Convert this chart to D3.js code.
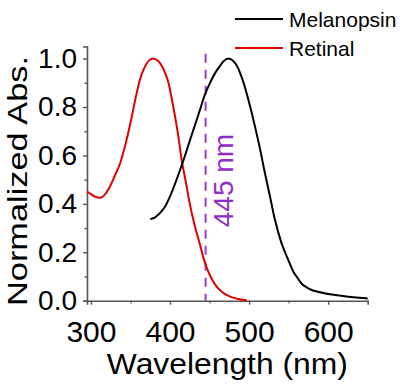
<!DOCTYPE html>
<html>
<head>
<meta charset="utf-8">
<script src="https://cdn.jsdelivr.net/npm/d3@7"></script>
<style>
  body { margin: 0; background: #fff; }
  text { font-family: "Liberation Sans", Arial, sans-serif; }
</style>
</head>
<body>
<div class="chart"></div>
<script>
const width = 400;
const height = 390;
const margin = {top: 46.5, bottom: 89.3, left: 87, right: 32.3};

// Retinal absorbance (red)
const retinalWl  = [295, 300, 305, 311.7, 318, 324, 330, 337, 344, 350, 356, 362, 368, 372, 378, 385, 392, 398, 404, 410, 415, 420, 425, 432, 438, 442, 446, 452, 459, 467, 476, 486, 497];
const retinalAbs = [0.451, 0.44, 0.43, 0.425, 0.44, 0.472, 0.515, 0.569, 0.65, 0.735, 0.83, 0.914, 0.965, 0.987, 1.0, 0.99, 0.955, 0.9, 0.803, 0.69, 0.576, 0.49, 0.40, 0.30, 0.23, 0.18, 0.14, 0.095, 0.058, 0.033, 0.017, 0.007, 0.002];

// Melanopsin absorbance (black)
const melanWl  = [375, 380, 385, 390, 394, 400, 406, 412.8, 419, 425.4, 432, 438, 444, 450.6, 457, 463, 468, 474, 480, 485, 488.6, 494, 499, 503, 507.4, 514, 520, 526.4, 532.7, 541, 549.5, 556, 560, 566, 572.7, 580, 589.5, 600, 615, 632, 650];
const melanAbs = [0.337, 0.342, 0.355, 0.372, 0.39, 0.431, 0.48, 0.541, 0.6, 0.665, 0.73, 0.79, 0.85, 0.90, 0.94, 0.969, 0.99, 1.0, 0.99, 0.968, 0.941, 0.89, 0.831, 0.78, 0.72, 0.624, 0.527, 0.431, 0.334, 0.238, 0.169, 0.12, 0.1, 0.072, 0.055, 0.043, 0.035, 0.028, 0.021, 0.014, 0.009];

const seriesNames = ["Melanopsin", "Retinal"];
const seriesColors = ["#000000", "#e00000"];

const xMajor = [300, 400, 500, 600];
const xMinor = [350, 450, 550, 650];
const yMajor = [0, 0.2, 0.4, 0.6, 0.8, 1.0];
const yMinor = [0.1, 0.3, 0.5, 0.7, 0.9];

const markerWl = 445;
const markerLabel = "445 nm";

const svg = d3.select(".chart").append("svg")
    .attr("width", width)
    .attr("height", height)
    .attr("viewBox", [0, 0, width, height]);

const xScale = d3.scaleLinear()
    .domain([295, 650])
    .range([margin.left, width - margin.right]);

const yScale = d3.scaleLinear()
    .domain([0, 1.05])
    .range([height - margin.bottom, margin.top]);

// axes - majors get labels, minors get short ticks only
const xAxis = svg.append("g")
    .attr("transform", "translate(0," + (height - margin.bottom) + ")")
    .call(d3.axisBottom(xScale)
        .tickValues(xMajor.concat(xMinor))
        .tickSizeOuter(0)
        .tickSize(4)
        .tickPadding(16)
        .tickFormat(function(d) { return xMajor.includes(d) ? d : ""; }));

const yAxis = svg.append("g")
    .attr("transform", "translate(" + margin.left + ",0)")
    .call(d3.axisLeft(yScale)
        .tickValues(yMajor.concat(yMinor))
        .tickSizeOuter(0)
        .tickSize(4)
        .tickPadding(6)
        .tickFormat(function(d) { return yMajor.includes(d) ? d3.format(".1f")(d) : ""; }));

[xAxis, yAxis].forEach(function(ax) {
    ax.select(".domain").attr("stroke", "#555").attr("stroke-width", 1.6);
    ax.selectAll(".tick line").attr("stroke", "#555").attr("stroke-width", 1.4);
    ax.selectAll(".tick text").attr("fill", "#000").style("font-family", "Liberation Sans, Arial, sans-serif");
});
xAxis.selectAll(".tick text").style("font-size", "30px");
yAxis.selectAll(".tick text").style("font-size", "28px");
xAxis.selectAll(".tick line").filter(function(d) { return xMinor.includes(d); }).attr("y2", 2.5);
yAxis.selectAll(".tick line").filter(function(d) { return yMinor.includes(d); }).attr("x2", -2.5);

// axis titles
svg.append("text")
    .attr("x", (margin.left + width - margin.right) / 2)
    .attr("y", 374)
    .attr("text-anchor", "middle")
    .attr("textLength", 241)
    .attr("lengthAdjust", "spacingAndGlyphs")
    .style("font-size", "29px")
    .text("Wavelength (nm)");

svg.append("text")
    .attr("transform", "translate(27,181) rotate(-90)")
    .attr("text-anchor", "middle")
    .attr("textLength", 250)
    .attr("lengthAdjust", "spacingAndGlyphs")
    .style("font-size", "28px")
    .text("Normalized Abs.");

// 445 nm marker
svg.append("line")
    .attr("x1", xScale(markerWl))
    .attr("x2", xScale(markerWl))
    .attr("y1", yScale(1.02))
    .attr("y2", yScale(0))
    .attr("stroke", "#a03cd8")
    .attr("stroke-width", 2)
    .attr("stroke-dasharray", "9,7");

svg.append("text")
    .attr("transform", "translate(" + (xScale(markerWl) + 27.5) + ",180.5) rotate(-90)")
    .attr("text-anchor", "middle")
    .attr("fill", "#8e2ec8")
    .style("font-size", "28px")
    .text(markerLabel);

// curves
const line = d3.line()
    .x(function(d) { return xScale(d[0]); })
    .y(function(d) { return yScale(d[1]); })
    .curve(d3.curveMonotoneX);

const melanData = d3.zip(melanWl, melanAbs);
const retinalData = d3.zip(retinalWl, retinalAbs);

svg.append("path")
    .datum(retinalData)
    .attr("d", line)
    .attr("fill", "none")
    .attr("stroke", seriesColors[1])
    .attr("stroke-width", 2);

svg.append("path")
    .datum(melanData)
    .attr("d", line)
    .attr("fill", "none")
    .attr("stroke", seriesColors[0])
    .attr("stroke-width", 2);

// legend
const legend = svg.append("g").attr("transform", "translate(235,19)");
seriesNames.forEach(function(name, i) {
    legend.append("line")
        .attr("x1", 0).attr("x2", 48)
        .attr("y1", i * 29).attr("y2", i * 29)
        .attr("stroke", seriesColors[i])
        .attr("stroke-width", 2);
    legend.append("text")
        .attr("x", 54)
        .attr("y", i * 29 + 8)
        .style("font-size", "21px")
        .text(name);
});
</script>
</body>
</html>
